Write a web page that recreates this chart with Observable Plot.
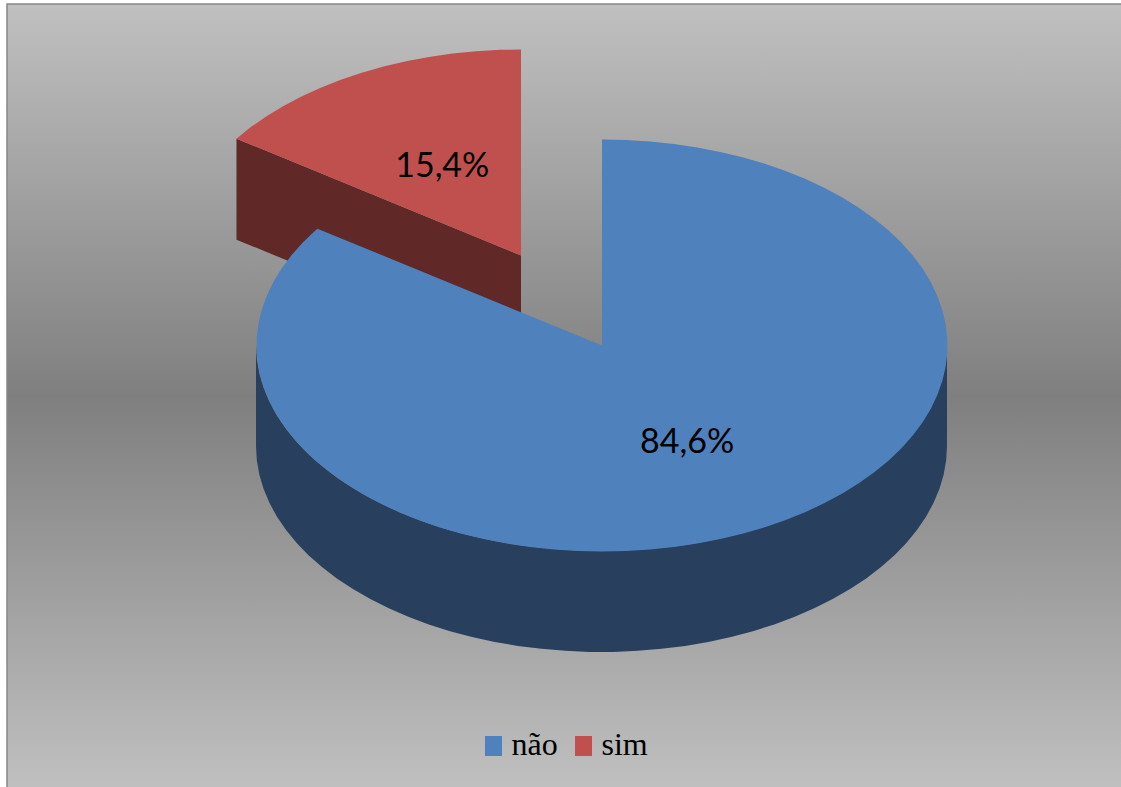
<!DOCTYPE html>
<html lang="pt">
<head>
<meta charset="utf-8">
<title>não / sim</title>
<style>
  html, body { margin: 0; padding: 0; background: #fff; overflow: hidden; }
</style>
<script src="https://cdn.jsdelivr.net/npm/d3@7"></script>
<script src="https://cdn.jsdelivr.net/npm/@observablehq/plot@0.6"></script>
</head>
<body>
<div id="chart"></div>
<script>
// Answers and their shares, in percent
const categories = ["não", "sim"];
const shares = [84.6, 15.4];

// Colours of each slice: top surface and shaded wall
const topColors = ["#4f81bd", "#c0504d"];
const wallColors = ["#283f5e", "#602826"];

// Layout of the tilted pie, in pixels
const W = 1121, H = 787;
const frame = {left: 7, top: 4};
const rx = 345.5, ry = 206, depth = 101;
const centers = [{x: 601.5, y: 345}, {x: 520.5, y: 255}]; // the "sim" slice is pulled out
const labelRadius = [0.53, 0.49];
const facet = 4; // degrees between outline vertices

// Slices run clockwise from 12 o'clock, "sim" ending back at the top
const total = d3.sum(shares);
const sweepSim = shares[1] / total * 360;
const spans = [[0, 360 - sweepSim], [360 - sweepSim, 360]];

const rad = d => d * Math.PI / 180;
const rim = (i, deg, dy = 0) => ({
  x: centers[i].x + rx * Math.sin(rad(deg)),
  y: centers[i].y - ry * Math.cos(rad(deg)) + dy
});
const arcDegrees = (a, b) => {
  const out = d3.range(a, b, facet);
  out.push(b);
  return out;
};

// Top surface: apex plus the rim
const topFace = i => [centers[i], ...arcDegrees(...spans[i]).map(d => rim(i, d))];

// Outer wall of "não": the front half of the rim, as a band hanging below it
const frontWall = arcDegrees(90, 270).map(d => {
  const p = rim(0, d);
  return {x: p.x, y1: p.y, y2: p.y + depth};
});

// Cut face of "sim": the straight edge from its rim to the apex, extruded down
const rimEnd = rim(1, spans[1][0]);
const cutFace = [
  rimEnd,
  centers[1],
  {x: centers[1].x, y: centers[1].y + depth},
  {x: rimEnd.x, y: rimEnd.y + depth}
];

const comma = d3.format(".1f");
const labels = categories.map((c, i) => {
  const mid = rad((spans[i][0] + spans[i][1]) / 2);
  return {
    text: comma(shares[i]).replace(".", ",") + "%",
    x: centers[i].x + labelRadius[i] * rx * Math.sin(mid),
    y: centers[i].y - labelRadius[i] * ry * Math.cos(mid)
  };
});

// Legend entries laid out along one row
const legendY = 746;
const legendSwatchX = [485, 575];
const legend = categories.map((c, i) => ({
  name: c, x: legendSwatchX[i], color: topColors[i]
}));

const polygon = (data, fill) => Plot.line(data, {
  x: "x", y: "y", fill, stroke: "none", curve: "linear-closed"
});

const chart = Plot.plot({
  width: W,
  height: H,
  margin: 0,
  x: {domain: [0, W], range: [0, W], axis: null},
  y: {domain: [0, H], range: [0, H], axis: null},
  marks: [
    // Chart area with its vertical grey fade
    Plot.rect([frame], {
      x1: "left", y1: "top", x2: W + 2, y2: H + 2,
      fill: "url(#backdrop)", stroke: "#868686", strokeWidth: 1.5
    }),
    // Back to front: pulled-out slice first, then the large one over it
    polygon(cutFace, wallColors[1]),
    polygon(topFace(1), topColors[1]),
    Plot.areaY(frontWall, {x: "x", y1: "y1", y2: "y2", fill: wallColors[0]}),
    polygon(topFace(0), topColors[0]),
    Plot.text(labels, {
      x: "x", y: "y", text: "text",
      fontFamily: "Lato", fontSize: 34, fill: "#000"
    }),
    // Legend
    Plot.rect(legend, {
      x1: "x", x2: d => d.x + 17,
      y1: legendY - 10, y2: legendY + 10,
      fill: "color"
    }),
    Plot.text(legend, {
      x: d => d.x + 26, y: legendY - 2, text: "name", textAnchor: "start",
      fontFamily: "Liberation Serif", fontSize: 32, fill: "#000"
    })
  ]
});

// Gradient used by the chart area
const defs = d3.select(chart).insert("defs", ":first-child");
const grad = defs.append("linearGradient")
  .attr("id", "backdrop")
  .attr("x1", 0).attr("y1", 0).attr("x2", 0).attr("y2", 1);
grad.selectAll("stop")
  .data([[0, "#c0c0c0"], [0.5, "#7f7f7f"], [1, "#c0c0c0"]])
  .join("stop")
  .attr("offset", d => d[0])
  .attr("stop-color", d => d[1]);

document.getElementById("chart").append(chart);
</script>
</body>
</html>
